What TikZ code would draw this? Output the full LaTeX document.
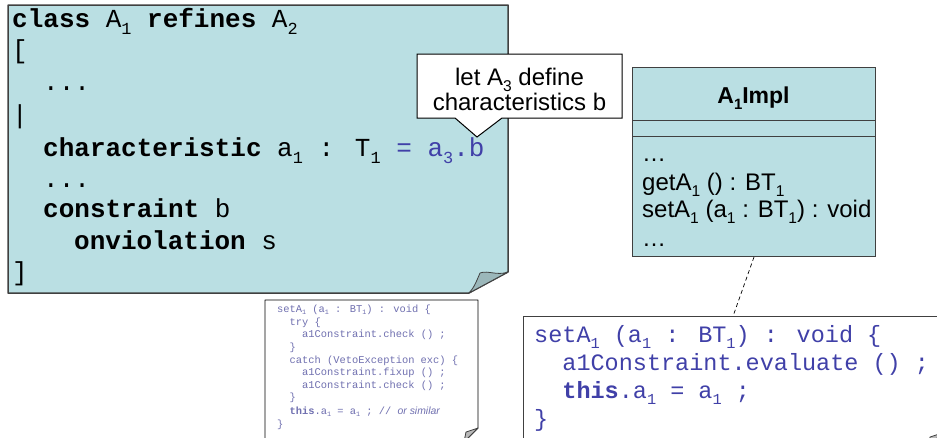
\documentclass[tikz,border=0pt]{standalone}
\usepackage{fontspec}
\usepackage{graphicx}
\setmainfont{Liberation Sans}
\newfontfamily\codefam{Liberation Mono}
% small lowered index, as in A_1
\newcommand\lowsub[1]{\raisebox{-0.28em}{\scalebox{0.65}{#1}}}

\definecolor{paleblue}{RGB}{186,223,227}
\definecolor{foldblue}{RGB}{155,183,186}
\definecolor{codeblue}{RGB}{64,64,168}
\definecolor{softblue}{RGB}{112,112,176}
\definecolor{framegray}{RGB}{64,64,64}

\tikzset{
  codeline/.style={anchor=base west, inner sep=0pt, font=\codefam\fontsize{26}{31}\selectfont},
  implline/.style={anchor=base west, inner sep=0pt, text=codeblue, font=\codefam\fontsize{23.5}{28}\selectfont},
  tinyline/.style={anchor=base west, inner sep=0pt, text=softblue, font=\codefam\fontsize{10.4}{12.7}\selectfont},
  umlline/.style={anchor=base west, inner sep=0pt, font=\fontsize{24}{25}\selectfont},
  tipline/.style={anchor=base, inner sep=0pt, font=\fontsize{24}{25}\selectfont},
  flap/.style={draw=framegray, line width=0.8pt, line join=round},
}

\begin{document}
\begin{tikzpicture}[x=1pt, y=-1pt]
\useasboundingbox (0,0) rectangle (937,437);
\clip (0,0) rectangle (937,437);

% ---- class A1 refines A2 : note with folded corner
\path[draw=framegray, line width=1.5pt, fill=paleblue, line join=round]
  (8,5) -- (508,5) -- (508,272) -- (469,293) -- (8,293) -- cycle;
\path[flap, fill=foldblue] (508,272) .. controls (497,276) and (488,270) .. (480,273)
  .. controls (477,280) and (474,288) .. (469,293) -- cycle;

\node[codeline] (l1) at (12,27)  {\textbf{class} A\lowsub{1} \textbf{refines} A\lowsub{2}};
\node[codeline] (l2) at (12,58)  {[};
\node[codeline] (l3) at (43,90)  {...};
\node[codeline] (l4) at (12,123) {|};
\node[codeline] (l5) at (43,156) {\textbf{characteristic} a\lowsub{1} : T\lowsub{1} \textcolor{codeblue}{= a\lowsub{3}.b}};
\node[codeline] (l6) at (43,187) {...};
\node[codeline] (l7) at (43,217) {\textbf{constraint} b};
\node[codeline] (l8) at (74,249) {\textbf{onviolation} s};
\node[codeline] (l9) at (12,280) {]};

% ---- small setter sketch with folded corner
\path[draw=black, line width=0.8pt, fill=white, line join=round]
  (265,300) -- (478,300) -- (478,428) -- (464,442) -- (265,442) -- cycle;
\path[flap, fill=gray!55] (478,428) -- (466,432) -- (464,442) -- cycle;

\node[tinyline] (s1)  at (277,312)   {setA\lowsub{1} (a\lowsub{1} : BT\lowsub{1}) : void \{};
\node[tinyline] (s2)  at (289.5,325) {try \{};
\node[tinyline] (s3)  at (302,337)   {a1Constraint.check () ;};
\node[tinyline] (s4)  at (289.5,350) {\}};
\node[tinyline] (s5)  at (289.5,363) {catch (VetoException exc) \{};
\node[tinyline] (s6)  at (302,375)   {a1Constraint.fixup () ;};
\node[tinyline] (s7)  at (302,388)   {a1Constraint.check () ;};
\node[tinyline] (s8)  at (289.5,400) {\}};
\node[tinyline] (s9)  at (289.5,414) {\textbf{this}.a\lowsub{1} = a\lowsub{1} ; // {\rmfamily\itshape or similar}};
\node[tinyline] (s10) at (277,427)   {\}};

% ---- implementation of the setter
\node[draw=framegray, line width=1.2pt, fill=white, anchor=north west,
      minimum width=419pt, minimum height=131pt, inner sep=0pt] (impl) at (523,316) {};
\path[flap, fill=gray!55] (942,433) -- (930,437) -- (928,447) -- cycle;

\node[implline] (i1) at (534,342)   {setA\lowsub{1} (a\lowsub{1} : BT\lowsub{1}) : void \{};
\node[implline] (i2) at (562.2,370) {a1Constraint.evaluate () ;};
\node[implline] (i3) at (562.2,398) {\textbf{this}.a\lowsub{1} = a\lowsub{1} ;};
\node[implline] (i4) at (534,426)   {\}};

% ---- UML class A1Impl
\node[draw=framegray, line width=1pt, fill=paleblue, anchor=north west,
      minimum width=243pt, minimum height=189pt, inner sep=0pt] (uml) at (632,67) {};
\draw[framegray, line width=1pt] (uml.west |- 0,120) -- (uml.east |- 0,120);
\draw[framegray, line width=1pt] (uml.west |- 0,136) -- (uml.east |- 0,136);
\node[anchor=base, inner sep=0pt, font=\bfseries\fontsize{23}{25}\selectfont] (title) at (753.5,103) {A\lowsub{1}Impl};
\node[umlline] (u1) at (642,161) {…};
\node[umlline] (u2) at (642,190) {getA\lowsub{1} () : BT\lowsub{1}};
\node[umlline] (u3) at (642,217) {setA\lowsub{1} (a\lowsub{1} : BT\lowsub{1}) : void};
\node[umlline] (u4) at (642,246) {…};

% note link from the class to its setter body
\draw[dashed, line width=0.7pt, dash pattern=on 4pt off 3pt] (uml.south) -- (impl.north);

% ---- callout
\path[draw=black, line width=1pt, fill=white, line join=miter]
  (417,54) -- (622,54) -- (622,118) -- (502,118) -- (477,137) -- (455,118) -- (417,118) -- cycle;
\node[tipline] (t1) at (519.5,85)  {let A\lowsub{3} define};
\node[tipline] (t2) at (519.5,110) {characteristics b};
\end{tikzpicture}
\end{document}
